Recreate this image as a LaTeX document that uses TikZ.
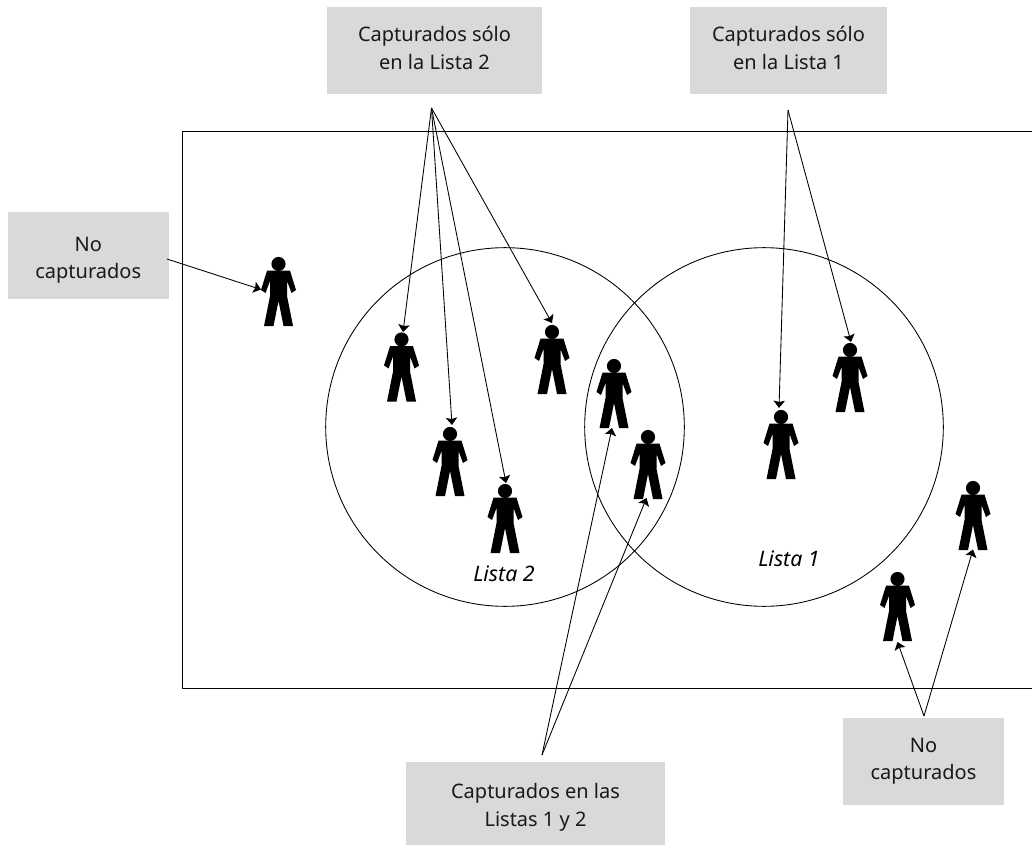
\documentclass[tikz,border=0pt]{standalone}
\usepackage{fontspec}
\setmainfont{Noto Sans}
\tikzset{
  x=0.75pt,y=-0.75pt,
  labelbox/.style={fill=boxgray,draw=none,inner sep=0pt},
  labeltext/.style={inner sep=0pt,align=center,text=black!90,font=\fontsize{15}{20.6}\selectfont},
  outline/.style={draw=black,line width=0.65pt},
  pointer/.style={draw=black,line width=0.65pt,-{Stealth[length=5.5pt,width=8.5pt,inset=1pt]}},
  head/.style={circle,fill=black,inner sep=0pt,minimum size=10.6pt},
  setname/.style={font=\fontsize{16}{18}\selectfont\itshape},
  pics/person/.style={code={
    \fill[black] (-11.5,6.7) -- (11.5,6.7) -- (17.5,26) -- (13,29) -- (8.5,17) -- (8.5,32) -- (14.5,62) -- (5,62) -- (0,37) -- (-5,62) -- (-14.5,62) -- (-8.5,32) -- (-8.5,17) -- (-13,29) -- (-17.5,26) -- cycle;
  }}
}
\definecolor{boxgray}{HTML}{D9D9D9}
\usetikzlibrary{arrows.meta}
\newcommand{\labelrect}[7]{% name, x1, y1, x2, y2, text centre y, text
  \node[labelbox,minimum width=#4*0.75pt-#2*0.75pt,minimum height=#5*0.75pt-#3*0.75pt] (#1) at ({(#2+#4)/2},{(#3+#5)/2}) {};
  \node[labeltext] (#1t) at ({(#2+#4)/2},#6) {#7};
}
\newcommand{\person}[3]{% name, x, y
  \pic at (#2,#3) {person};
  \node[head] (#1) at (#2,#3) {};
}
\begin{document}
\begin{tikzpicture}
\useasboundingbox (0,0) rectangle (1032,845);
% frame, open on the right
\coordinate (fa) at (1032,131);
\coordinate (fb) at (182,131);
\coordinate (fc) at (182,688);
\coordinate (fd) at (1032,688);
\draw[outline] (fa) -- (fb) -- (fc) -- (fd);
% sets
\node[outline,circle,inner sep=0pt,minimum size=269pt] (l2) at (505,427) {};
\node[outline,circle,inner sep=0pt,minimum size=269pt] (l1) at (764,427) {};
\node[setname] (t2) at (504,574) {Lista 2};
\node[setname] (t1) at (789,559) {Lista 1};
% label boxes
\labelrect{b2}{327}{7}{542}{94}{48}{Capturados sólo\\en la Lista 2}
\labelrect{b1}{690}{7}{887}{94}{48}{Capturados sólo\\en la Lista 1}
\labelrect{bn}{8}{212}{168.5}{298.5}{260.5}{No\\capturados}
\labelrect{bm}{843}{718}{1004}{805}{761.5}{No\\capturados}
\labelrect{bb}{406}{762}{665}{846}{807.5}{Capturados en las\\Listas 1 y 2}
% people
\person{p1}{278.5}{264}
\person{p2}{401.5}{339.5}
\person{p3}{450}{434}
\person{p4}{505}{491}
\person{p5}{552}{332}
\person{p6}{614}{366}
\person{p7}{648}{437}
\person{p8}{781}{417}
\person{p9}{850}{350}
\person{p10}{973}{488}
\person{p11}{897.5}{579}
% connector start and end points
\coordinate (a2) at (431.5,108);
\coordinate (a1) at (788,110);
\coordinate (ab) at (542,755);
\coordinate (am) at (924,716);
\coordinate (an) at (167,259);
\coordinate (e1) at (261,289.5);
\coordinate (e2) at (403,332);
\coordinate (e3) at (452,425);
\coordinate (e4) at (506,483);
\coordinate (e5) at (552,323);
\coordinate (e6) at (612,428);
\coordinate (e7) at (646.5,498);
\coordinate (e8) at (779,408);
\coordinate (e9) at (851,342);
\coordinate (e10) at (973,549.5);
\coordinate (e11) at (897.5,642);
% connectors
\draw[pointer] (a2) -- (e2);
\draw[pointer] (a2) -- (e3);
\draw[pointer] (a2) -- (e4);
\draw[pointer] (a2) -- (e5);
\draw[pointer] (a1) -- (e8);
\draw[pointer] (a1) -- (e9);
\draw[pointer] (an) -- (e1);
\draw[pointer] (ab) -- (e6);
\draw[pointer] (ab) -- (e7);
\draw[pointer] (am) -- (e10);
\draw[pointer] (am) -- (e11);
\end{tikzpicture}
\end{document}
